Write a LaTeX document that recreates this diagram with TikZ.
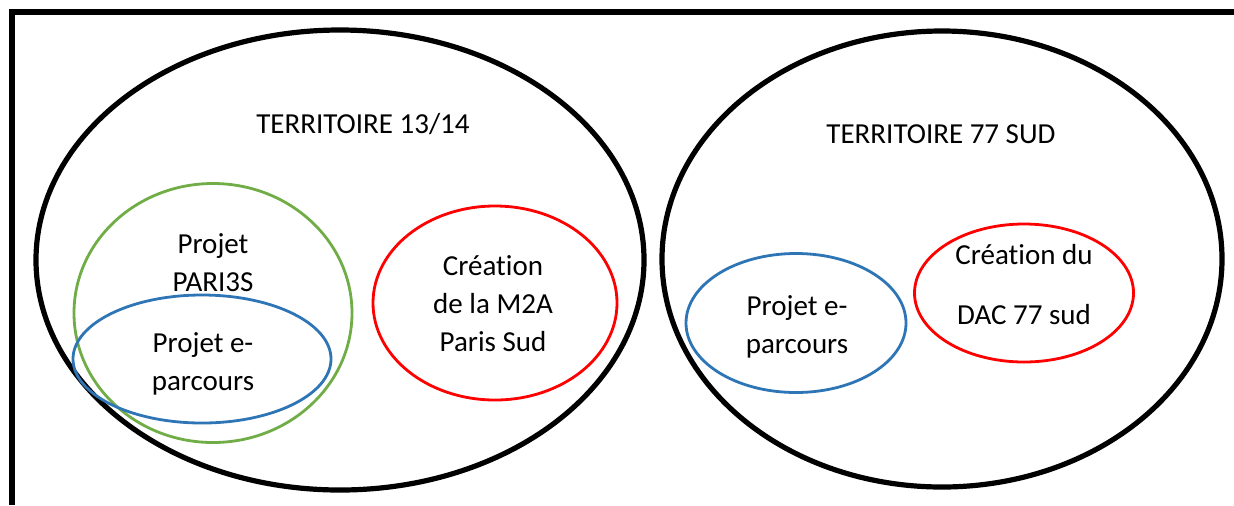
\documentclass[tikz,border=0pt]{standalone}
\usepackage{fontspec}
\setmainfont[Ligatures=NoCommon]{Carlito}
\usetikzlibrary{shapes.geometric}

\begin{document}
\begin{tikzpicture}[x=0.5pt,y=-0.5pt,
    territoire/.style={ellipse,draw,line width=2.6pt,inner sep=0pt},
    projet/.style={ellipse,draw,line width=1.4pt,inner sep=0pt},
    txt/.style={font=\fontsize{14.5}{19}\selectfont,align=center,inner sep=0pt}]
  \definecolor{vert}{HTML}{70AD47}
  \definecolor{bleu}{HTML}{2E75B6}
  \useasboundingbox (0,0) rectangle (1234,505);
  % Frame
  \draw[line width=3pt] (12,505) -- (12,12) -- (1234,12);
  % Territories
  \node[territoire,minimum width=304pt,minimum height=230pt] (t1314) at (340,260) {};
  \node[territoire,minimum width=280pt,minimum height=228pt] (t77) at (942,259) {};
  \node[txt] (t1314txt) at (363,124) {TERRITOIRE 13/14};
  \node[txt] (t77txt) at (941,134) {TERRITOIRE 77 SUD};
  % Territoire 13/14
  \node[projet,draw=vert,minimum width=139pt,minimum height=129.5pt] (pari) at (213,313) {};
  \node[projet,draw=bleu,minimum width=129pt,minimum height=64pt] (epar1) at (202,359) {};
  \node[projet,draw=red,minimum width=122pt,minimum height=97pt] (m2a) at (495,303) {};
  \node[txt] (paritxt) at (213,263) {Projet\\PARI3S};
  \node[txt] (epar1txt) at (203,364) {Projet e-\\parcours};
  \node[txt] (m2atxt) at (493,304) {Création\\de la M2A\\Paris Sud};
  % Territoire 77 sud
  \node[projet,draw=bleu,minimum width=110pt,minimum height=69.5pt] (epar2) at (796,323) {};
  \node[projet,draw=red,minimum width=109.5pt,minimum height=69pt] (dac) at (1024,293) {};
  \node[txt] (epar2txt) at (797,327) {Projet e-\\parcours};
  \node[txt,font=\fontsize{14.5}{30}\selectfont] (dactxt) at (1024,285) {Création du\\DAC 77 sud};
\end{tikzpicture}
\end{document}
